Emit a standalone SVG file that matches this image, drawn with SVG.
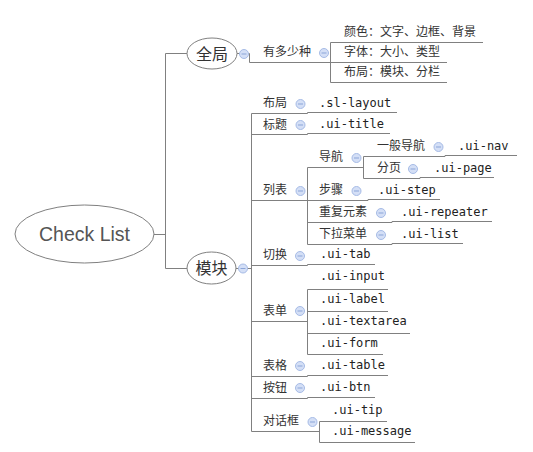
<svg xmlns="http://www.w3.org/2000/svg" xmlns:xlink="http://www.w3.org/1999/xlink" width="533" height="452" viewBox="0 0 533 452">
<style>
.cjk{font-family:"Noto Sans CJK SC","Noto Sans",sans-serif;font-size:12px;fill:#333}
.mono{font-family:"DejaVu Sans Mono","Liberation Mono",monospace;font-size:12px;fill:#222}
.big{font-family:"Noto Sans CJK SC",sans-serif;font-size:16px;fill:#333}
.ell{fill:#fff;stroke:#808080;stroke-width:1}
.ln{fill:none;stroke:#808080;stroke-width:1}
</style>
<defs>
<g id="ic">
<circle r="4.5" fill="#d4dff6" stroke="#a6bbe6" stroke-width="1"/>
<line x1="-2.5" y1="0" x2="2.5" y2="0" stroke="#8ba5d8" stroke-width="1"/>
</g>
</defs>
<rect width="533" height="452" fill="#fff"/>
<g id="connectors" class="ln">
<path d="M154 234.5H165.5M165.5 53.5V268.5M165.5 53.5H187M165.5 268.5H187"/>
<path d="M237 53.5H249.5V62.5H330.5M330.5 42.5V82.5M330.5 42.5H483M330.5 62.5H447M330.5 82.5H447"/>
<path d="M236 268.5H251.5M251.5 113.5V431.5"/>
<path d="M251.5 113.5H307.5V112.5H397"/>
<path d="M251.5 134.5H307.5V133.5H390"/>
<path d="M251.5 200.5H307.5M307.5 167.5V244.5M307.5 167.5H363.5M363.5 156.5V178.5"/>
<path d="M363.5 156.5H445V155.5H517"/>
<path d="M363.5 178.5H420V177.5H494"/>
<path d="M307.5 200.5H368V199.5H440"/>
<path d="M307.5 222.5H392V221.5H492"/>
<path d="M307.5 244.5H392V243.5H463"/>
<path d="M251.5 265.5H307.5V264.5H375"/>
<path d="M251.5 321.5H307.5M307.5 289.5V354.5M307.5 289.5H388M307.5 311.5H388M307.5 333.5H410M307.5 354.5H383"/>
<path d="M251.5 376.5H307.5V375.5H388"/>
<path d="M251.5 398.5H307.5V397.5H375"/>
<path d="M251.5 431.5H319.5M319.5 421.5V442.5M319.5 421.5H387M319.5 442.5H415"/>
</g>
<g id="root">
<ellipse class="ell" cx="84.5" cy="234" rx="69.5" ry="29"/>
<text x="84.5" y="241" text-anchor="middle" font-family="Liberation Sans,Arial,sans-serif" font-size="19.5" fill="#555">Check List</text>
</g>
<g id="n-quanju">
<ellipse class="ell" cx="212" cy="53.5" rx="25" ry="15.5"/>
<text class="big" x="212" y="59.5" text-anchor="middle">全局</text>
<use xlink:href="#ic" x="244" y="54"/>
</g>
<g id="n-youduoshao">
<text class="cjk" x="263" y="56">有多少种</text>
<use xlink:href="#ic" x="324" y="53"/>
</g>
<g id="n-yanse"><text class="cjk" x="344" y="36">颜色：文字、边框、背景</text></g>
<g id="n-ziti"><text class="cjk" x="344" y="56">字体：大小、类型</text></g>
<g id="n-buju1"><text class="cjk" x="344" y="76">布局：模块、分栏</text></g>
<g id="n-mokuai">
<ellipse class="ell" cx="211.5" cy="268" rx="24.5" ry="16"/>
<text class="big" x="211.5" y="274" text-anchor="middle">模块</text>
<use xlink:href="#ic" x="243" y="268.5"/>
</g>
<g id="n-buju2">
<text class="cjk" x="263" y="107">布局</text>
<use xlink:href="#ic" x="300.5" y="104"/>
</g>
<g id="n-sl-layout"><text class="mono" x="319" y="106.5">.sl-layout</text></g>
<g id="n-biaoti">
<text class="cjk" x="263" y="128.5">标题</text>
<use xlink:href="#ic" x="300.5" y="125"/>
</g>
<g id="n-ui-title"><text class="mono" x="319" y="128">.ui-title</text></g>
<g id="n-liebiao">
<text class="cjk" x="263" y="194">列表</text>
<use xlink:href="#ic" x="300.5" y="191"/>
</g>
<g id="n-daohang">
<text class="cjk" x="319" y="161">导航</text>
<use xlink:href="#ic" x="356.5" y="158"/>
</g>
<g id="n-yiban">
<text class="cjk" x="377" y="150">一般导航</text>
<use xlink:href="#ic" x="438.5" y="147"/>
</g>
<g id="n-ui-nav"><text class="mono" x="458" y="149.5">.ui-nav</text></g>
<g id="n-fenye">
<text class="cjk" x="377" y="172">分页</text>
<use xlink:href="#ic" x="413" y="169"/>
</g>
<g id="n-ui-page"><text class="mono" x="434" y="171.5">.ui-page</text></g>
<g id="n-buzhou">
<text class="cjk" x="319" y="194">步骤</text>
<use xlink:href="#ic" x="356.5" y="191"/>
</g>
<g id="n-ui-step"><text class="mono" x="378" y="193.5">.ui-step</text></g>
<g id="n-chongfu">
<text class="cjk" x="319" y="216">重复元素</text>
<use xlink:href="#ic" x="381" y="213"/>
</g>
<g id="n-ui-repeater"><text class="mono" x="401" y="215.5">.ui-repeater</text></g>
<g id="n-xiala">
<text class="cjk" x="319" y="238">下拉菜单</text>
<use xlink:href="#ic" x="381" y="235"/>
</g>
<g id="n-ui-list"><text class="mono" x="401" y="237.5">.ui-list</text></g>
<g id="n-qiehuan">
<text class="cjk" x="263" y="259">切换</text>
<use xlink:href="#ic" x="300" y="256"/>
</g>
<g id="n-ui-tab"><text class="mono" x="320" y="258">.ui-tab</text></g>
<g id="n-biaodan">
<text class="cjk" x="263" y="314.5">表单</text>
<use xlink:href="#ic" x="300" y="311"/>
</g>
<g id="n-ui-input"><text class="mono" x="320" y="280">.ui-input</text></g>
<g id="n-ui-label"><text class="mono" x="320" y="303">.ui-label</text></g>
<g id="n-ui-textarea"><text class="mono" x="320" y="325">.ui-textarea</text></g>
<g id="n-ui-form"><text class="mono" x="320" y="346.5">.ui-form</text></g>
<g id="n-biaoge">
<text class="cjk" x="263" y="369.5">表格</text>
<use xlink:href="#ic" x="300" y="366"/>
</g>
<g id="n-ui-table"><text class="mono" x="320" y="368.5">.ui-table</text></g>
<g id="n-anniu">
<text class="cjk" x="263" y="391.5">按钮</text>
<use xlink:href="#ic" x="300" y="388"/>
</g>
<g id="n-ui-btn"><text class="mono" x="320" y="390.5">.ui-btn</text></g>
<g id="n-duihua">
<text class="cjk" x="263" y="424.5">对话框</text>
<use xlink:href="#ic" x="312.5" y="422"/>
</g>
<g id="n-ui-tip"><text class="mono" x="332" y="413.5">.ui-tip</text></g>
<g id="n-ui-message"><text class="mono" x="332" y="434.5">.ui-message</text></g>
</svg>
